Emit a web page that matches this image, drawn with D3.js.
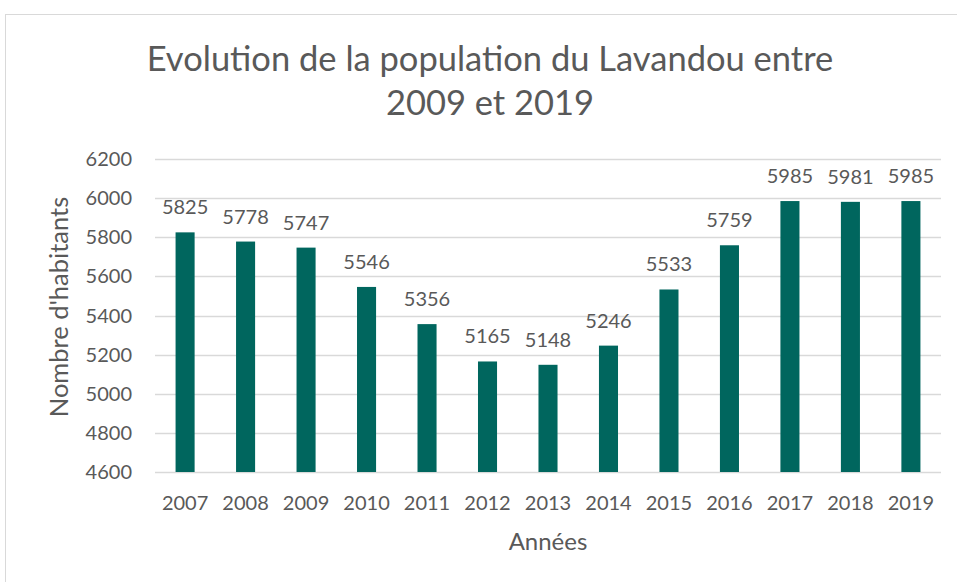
<!DOCTYPE html>
<html>
<head>
<meta charset="utf-8">
<script src="https://cdn.jsdelivr.net/npm/d3@7"></script>
<style>
  body { margin: 0; background: #fff; }
  text { font-family: Lato, "Noto Sans", sans-serif; fill: #595959; }
</style>
</head>
<body>
<svg id="chart"></svg>
<script>
// Data
const years = ["2007", "2008", "2009", "2010", "2011", "2012", "2013",
  "2014", "2015", "2016", "2017", "2018", "2019"];
const population = [5825, 5778, 5747, 5546, 5356, 5165, 5148,
  5246, 5533, 5759, 5985, 5981, 5985];
const yTicks = [4600, 4800, 5000, 5200, 5400, 5600, 5800, 6000, 6200];

const width = 957;
const height = 582;

const svg = d3.select("#chart").attr("width", width).attr("height", height);

// Chart border
svg.append("rect")
  .attr("x", 5.5)
  .attr("y", 14.5)
  .attr("width", width + 10)
  .attr("height", height + 10)
  .attr("fill", "none")
  .attr("stroke", "#d9d9d9");

// Plot area
const plotLeft = 155, plotRight = 941, plotTop = 159, plotBottom = 472;

const x = d3.scaleBand()
  .domain(years)
  .range([plotLeft, plotRight])
  .paddingInner(0.685)
  .paddingOuter(0.34);

const y = d3.scaleLinear()
  .domain([4600, 6200])
  .range([plotBottom, plotTop]);

// Gridlines
svg.append("g")
  .selectAll("line")
  .data(yTicks)
  .enter()
  .append("line")
  .attr("x1", plotLeft)
  .attr("x2", plotRight)
  .attr("y1", (d) => Math.round(y(d)) + 0.5)
  .attr("y2", (d) => Math.round(y(d)) + 0.5)
  .attr("stroke", "#d9d9d9")
  .attr("stroke-width", 1.5);

// Y tick labels
svg.append("g")
  .selectAll("text")
  .data(yTicks)
  .enter()
  .append("text")
  .attr("x", 132)
  .attr("y", (d) => y(d) + 7)
  .attr("text-anchor", "end")
  .style("font-size", "20px")
  .text((d) => d);

// Bars
svg.append("g")
  .selectAll("rect")
  .data(population)
  .enter()
  .append("rect")
  .attr("x", (d, i) => x(years[i]))
  .attr("width", x.bandwidth())
  .attr("y", (d) => y(d))
  .attr("height", (d) => y(4600) - y(d))
  .attr("fill", "#00665e");

// Value labels
svg.append("g")
  .selectAll("text")
  .data(population)
  .enter()
  .append("text")
  .attr("x", (d, i) => x(years[i]) + x.bandwidth() / 2)
  .attr("y", (d) => y(d) - 18)
  .attr("text-anchor", "middle")
  .style("font-size", "20px")
  .text((d) => d);

// X tick labels
svg.append("g")
  .selectAll("text")
  .data(years)
  .enter()
  .append("text")
  .attr("x", (d) => x(d) + x.bandwidth() / 2)
  .attr("y", 510)
  .attr("text-anchor", "middle")
  .style("font-size", "20px")
  .text((d) => d);

// Axis titles
svg.append("text")
  .attr("x", 548)
  .attr("y", 550)
  .attr("text-anchor", "middle")
  .style("font-size", "24px")
  .text("Années");

svg.append("text")
  .attr("transform", "translate(68,307) rotate(-90)")
  .attr("text-anchor", "middle")
  .style("font-size", "25.5px")
  .text("Nombre d'habitants");

// Title
const title = svg.append("text")
  .attr("text-anchor", "middle")
  .style("font-size", "34.5px");
title.append("tspan").attr("x", 490).attr("y", 71)
  .text("Evolution de la population du Lavandou entre");
title.append("tspan").attr("x", 490).attr("y", 115)
  .text("2009 et 2019");
</script>
</body>
</html>
